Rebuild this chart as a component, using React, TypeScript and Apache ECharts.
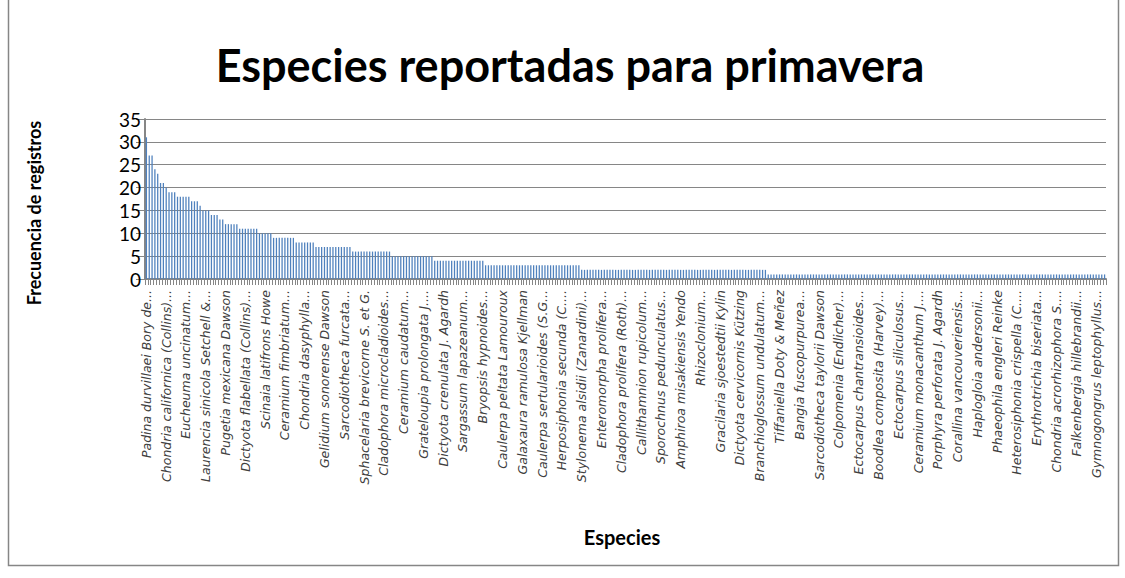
import React, { useEffect, useRef } from "react";
import * as echarts from "echarts";

// Species shown as labels (every 7th category, as in the reference)
const labeledSpecies = [
  "Padina durvillaei Bory de...",
  "Chondria californica (Collins)...",
  "Eucheuma uncinatum...",
  "Laurencia sinicola Setchell &...",
  "Pugetia mexicana Dawson",
  "Dictyota flabellata (Collins)...",
  "Scinaia latifrons Howe",
  "Ceramium fimbriatum...",
  "Chondria dasyphylla...",
  "Gelidium sonorense Dawson",
  "Sarcodiotheca furcata...",
  "Sphacelaria brevicorne S. et G.",
  "Cladophora microcladioides...",
  "Ceramium caudatum...",
  "Grateloupia prolongata J....",
  "Dictyota crenulata J. Agardh",
  "Sargassum lapazeanum...",
  "Bryopsis hypnoides...",
  "Caulerpa peltata Lamouroux",
  "Galaxaura ramulosa Kjellman",
  "Caulerpa sertularioides (S.G...",
  "Herposiphonia secunda (C....",
  "Stylonema alsidii (Zanardini)...",
  "Enteromorpha prolifera...",
  "Cladophora prolifera (Roth)...",
  "Callithamnion rupicolum...",
  "Sporochnus pedunculatus...",
  "Amphiroa misakiensis Yendo",
  "Rhizoclonium...",
  "Gracilaria sjoestedtii Kylin",
  "Dictyota cervicornis Kützing",
  "Branchioglossum undulatum...",
  "Tiffaniella Doty & Meñez",
  "Bangia fuscopurpurea...",
  "Sarcodiotheca taylorii Dawson",
  "Colpomenia (Endlicher)...",
  "Ectocarpus chantransioides...",
  "Boodlea composita (Harvey)...",
  "Ectocarpus siliculosus...",
  "Ceramium monacanthum J....",
  "Porphyra perforata J. Agardh",
  "Corallina vancouveriensis...",
  "Haplogloia andersonii...",
  "Phaeophila engleri Reinke",
  "Heterosiphonia crispella (C....",
  "Erythrotrichia biseriata...",
  "Chondria acrorhizophora S....",
  "Falkenbergia hillebrandii...",
  "Gymnogongrus leptophyllus...",
];

// Frecuencia de registros per species (340 species, sorted)
const frequencies = [
  31, 27, 27, 24, 23, 21, 21, 20, 19, 19,
  19, 18, 18, 18, 18, 18, 17, 17, 17, 16,
  15, 15, 15, 14, 14, 14, 13, 13, 12, 12,
  12, 12, 12, 11, 11, 11, 11, 11, 11, 11,
  10, 10, 10, 10, 10, 9, 9, 9, 9, 9,
  9, 9, 9, 8, 8, 8, 8, 8, 8, 8,
  7, 7, 7, 7, 7, 7, 7, 7, 7, 7,
  7, 7, 7, 6, 6, 6, 6, 6, 6, 6,
  6, 6, 6, 6, 6, 6, 6, 5, 5, 5,
  5, 5, 5, 5, 5, 5, 5, 5, 5, 5,
  5, 5, 4, 4, 4, 4, 4, 4, 4, 4,
  4, 4, 4, 4, 4, 4, 4, 4, 4, 4,
  3, 3, 3, 3, 3, 3, 3, 3, 3, 3,
  3, 3, 3, 3, 3, 3, 3, 3, 3, 3,
  3, 3, 3, 3, 3, 3, 3, 3, 3, 3,
  3, 3, 3, 3, 2, 2, 2, 2, 2, 2,
  2, 2, 2, 2, 2, 2, 2, 2, 2, 2,
  2, 2, 2, 2, 2, 2, 2, 2, 2, 2,
  2, 2, 2, 2, 2, 2, 2, 2, 2, 2,
  2, 2, 2, 2, 2, 2, 2, 2, 2, 2,
  2, 2, 2, 2, 2, 2, 2, 2, 2, 2,
  2, 2, 2, 2, 2, 2, 2, 2, 2, 2,
  1, 1, 1, 1, 1, 1, 1, 1, 1, 1,
  1, 1, 1, 1, 1, 1, 1, 1, 1, 1,
  1, 1, 1, 1, 1, 1, 1, 1, 1, 1,
  1, 1, 1, 1, 1, 1, 1, 1, 1, 1,
  1, 1, 1, 1, 1, 1, 1, 1, 1, 1,
  1, 1, 1, 1, 1, 1, 1, 1, 1, 1,
  1, 1, 1, 1, 1, 1, 1, 1, 1, 1,
  1, 1, 1, 1, 1, 1, 1, 1, 1, 1,
  1, 1, 1, 1, 1, 1, 1, 1, 1, 1,
  1, 1, 1, 1, 1, 1, 1, 1, 1, 1,
  1, 1, 1, 1, 1, 1, 1, 1, 1, 1,
  1, 1, 1, 1, 1, 1, 1, 1, 1, 1,
];

const LABEL_STEP = 7;
const yMin = 0;
const yMax = 35;
const yStep = 5;

const titleText = "Especies reportadas para primavera";
const yAxisTitle = "Frecuencia de registros";
const xAxisTitle = "Especies";

const categories = frequencies.map((_, i) =>
  i % LABEL_STEP === 0 ? labeledSpecies[i / LABEL_STEP] : `Especie ${i + 1}`
);

export default function App() {
  const ref = useRef<HTMLDivElement>(null);
  useEffect(() => {
    if (!ref.current) return;
    const chart = echarts.init(ref.current, undefined, { renderer: "svg" });
    const gray = "#868686";
    chart.setOption({
      animation: false,
      backgroundColor: "#ffffff",
      grid: { left: 145, right: 19, top: 119, bottom: 299, containLabel: false },
      graphic: [
        {
          type: "rect",
          shape: { x: 8.5, y: -2, width: 1110, height: 567.5 },
          style: { fill: "none", stroke: gray, lineWidth: 1.5 },
          silent: true,
        },
        {
          type: "text",
          x: 570,
          y: 65,
          style: {
            text: titleText,
            font: "bold 45px Lato",
            fill: "#000000",
            textAlign: "center",
            textVerticalAlign: "middle",
          },
        },
        {
          type: "text",
          x: 34,
          y: 213,
          rotation: Math.PI / 2,
          style: {
            text: yAxisTitle,
            font: "bold 18px Lato",
            fill: "#000000",
            textAlign: "center",
            textVerticalAlign: "middle",
          },
        },
        {
          type: "text",
          x: 622,
          y: 537,
          style: {
            text: xAxisTitle,
            font: "bold 20px Lato",
            fill: "#000000",
            textAlign: "center",
            textVerticalAlign: "middle",
          },
        },
      ],
      xAxis: {
        type: "category",
        data: categories,
        boundaryGap: true,
        axisLine: { show: true, lineStyle: { color: gray, width: 2 } },
        axisTick: {
          show: true,
          interval: 0,
          length: 6,
          lineStyle: { color: gray, width: 1 },
        },
        axisLabel: {
          interval: LABEL_STEP - 1,
          rotate: 90,
          margin: 11,
          fontFamily: "DejaVu Sans",
          fontStyle: "italic",
          fontSize: 12.5,
          color: "#404040",
        },
        splitLine: { show: false },
      },
      yAxis: {
        type: "value",
        min: yMin,
        max: yMax,
        interval: yStep,
        axisLine: { show: true, lineStyle: { color: gray, width: 2 } },
        axisTick: { show: true, length: 9, lineStyle: { color: gray, width: 1 } },
        axisLabel: {
          margin: 4,
          fontFamily: "Lato",
          fontSize: 19,
          color: "#000000",
        },
        splitLine: { show: true, lineStyle: { color: gray, width: 1.2 } },
      },
      series: [
        {
          type: "bar",
          data: frequencies,
          barCategoryGap: "55%",
          itemStyle: { color: "#4F81BD" },
        },
      ],
    });
    return () => chart.dispose();
  }, []);
  return (
    <div
      ref={ref}
      style={{ position: "fixed", left: 0, top: 0, width: 1125, height: 578 }}
    />
  );
}
